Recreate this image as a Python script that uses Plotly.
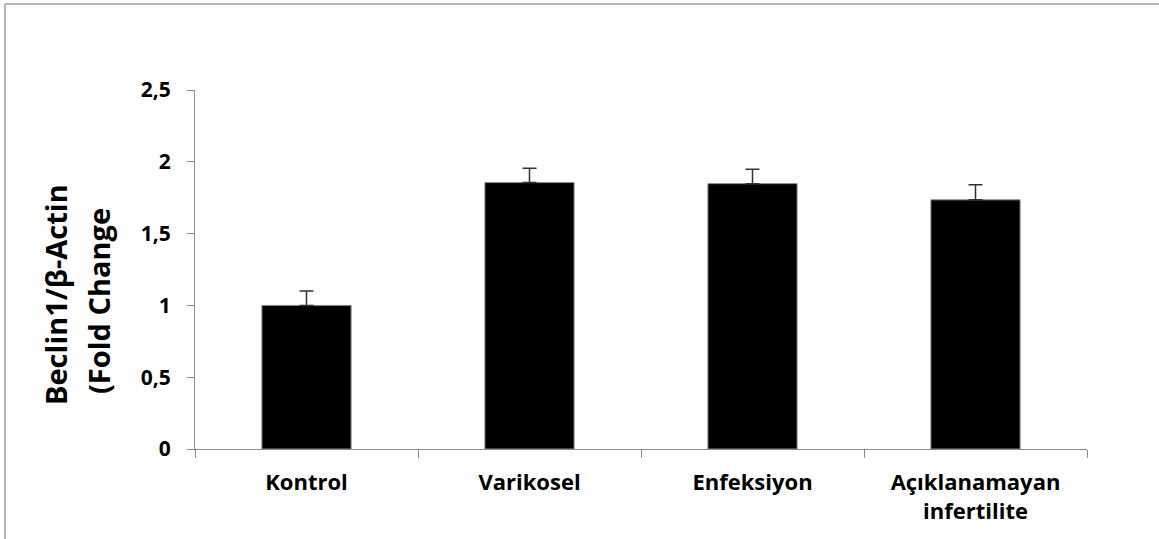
import plotly.graph_objects as go

categories = ["Kontrol", "Varikosel", "Enfeksiyon", "Açıklanamayan<br>infertilite"]
values = [1.0, 1.855, 1.848, 1.735]
errors_up = [0.1, 0.1, 0.1, 0.105]
errors_down = [0, 0, 0, 0]
y_ticks = [0, 0.5, 1, 1.5, 2, 2.5]
y_title_line1 = "Beclin1/β-Actin"
y_title_line2 = "(Fold Change"

W, H = 1159, 539
L, R, T, B = 195, 72, 90, 90
pw, ph = W - L - R, H - T - B

def px_x(p):
    return (p - L) / pw

def px_y(p):
    return (H - B - p) / ph

FONT = "Open Sans"
GRAY = "#8c8c8c"

fig = go.Figure()
fig.add_trace(go.Bar(
    x=categories, y=values, width=0.4,
    marker=dict(color="black", line=dict(color="#8a8a8a", width=1)),
    error_y=dict(type="data", symmetric=False, array=errors_up, arrayminus=errors_down,
                 color="#333333", thickness=1.5, width=7),
))

fig.update_layout(
    width=W, height=H,
    margin=dict(l=L, r=R, t=T, b=B, pad=0),
    paper_bgcolor="white", plot_bgcolor="white",
    separators=", ",
    showlegend=False,
    font=dict(family=FONT, color="black"),
    xaxis=dict(
        showline=True, linecolor=GRAY, linewidth=1,
        ticks="outside", tickson="boundaries", ticklen=8, tickcolor=GRAY, tickwidth=1,
        tickfont=dict(family=FONT, size=22, color="black", weight="bold"),
        ticklabelstandoff=14,
        showgrid=False, zeroline=False,
    ),
    yaxis=dict(
        range=[0, 2.5], tickvals=y_ticks,
        showline=True, linecolor=GRAY, linewidth=1,
        ticks="outside", ticklen=7, tickcolor=GRAY, tickwidth=1,
        tickfont=dict(family=FONT, size=21, color="black", weight="bold"),
        ticklabelstandoff=12,
        showgrid=False, zeroline=False,
    ),
    annotations=[
        dict(text=y_title_line1, textangle=-90, showarrow=False,
             xref="paper", yref="paper", x=px_x(55), y=px_y(295),
             xanchor="center", yanchor="middle",
             font=dict(family=FONT, size=29, color="black", weight="bold")),
        dict(text=y_title_line2, textangle=-90, showarrow=False,
             xref="paper", yref="paper", x=px_x(98), y=px_y(301),
             xanchor="center", yanchor="middle",
             font=dict(family=FONT, size=29, color="black", weight="bold")),
    ],
    shapes=[
        dict(type="line", xref="paper", yref="paper", x0=px_x(5), x1=px_x(W + 5),
             y0=px_y(4), y1=px_y(4), line=dict(color="#a0a0a0", width=1.5)),
        dict(type="line", xref="paper", yref="paper", x0=px_x(5), x1=px_x(5),
             y0=px_y(4), y1=px_y(H + 5), line=dict(color="#a0a0a0", width=1.5)),
    ],
)

fig.write_html("out.html", config={"displayModeBar": False},
               post_script="document.body.style.margin='0';document.body.style.overflow='hidden';")
